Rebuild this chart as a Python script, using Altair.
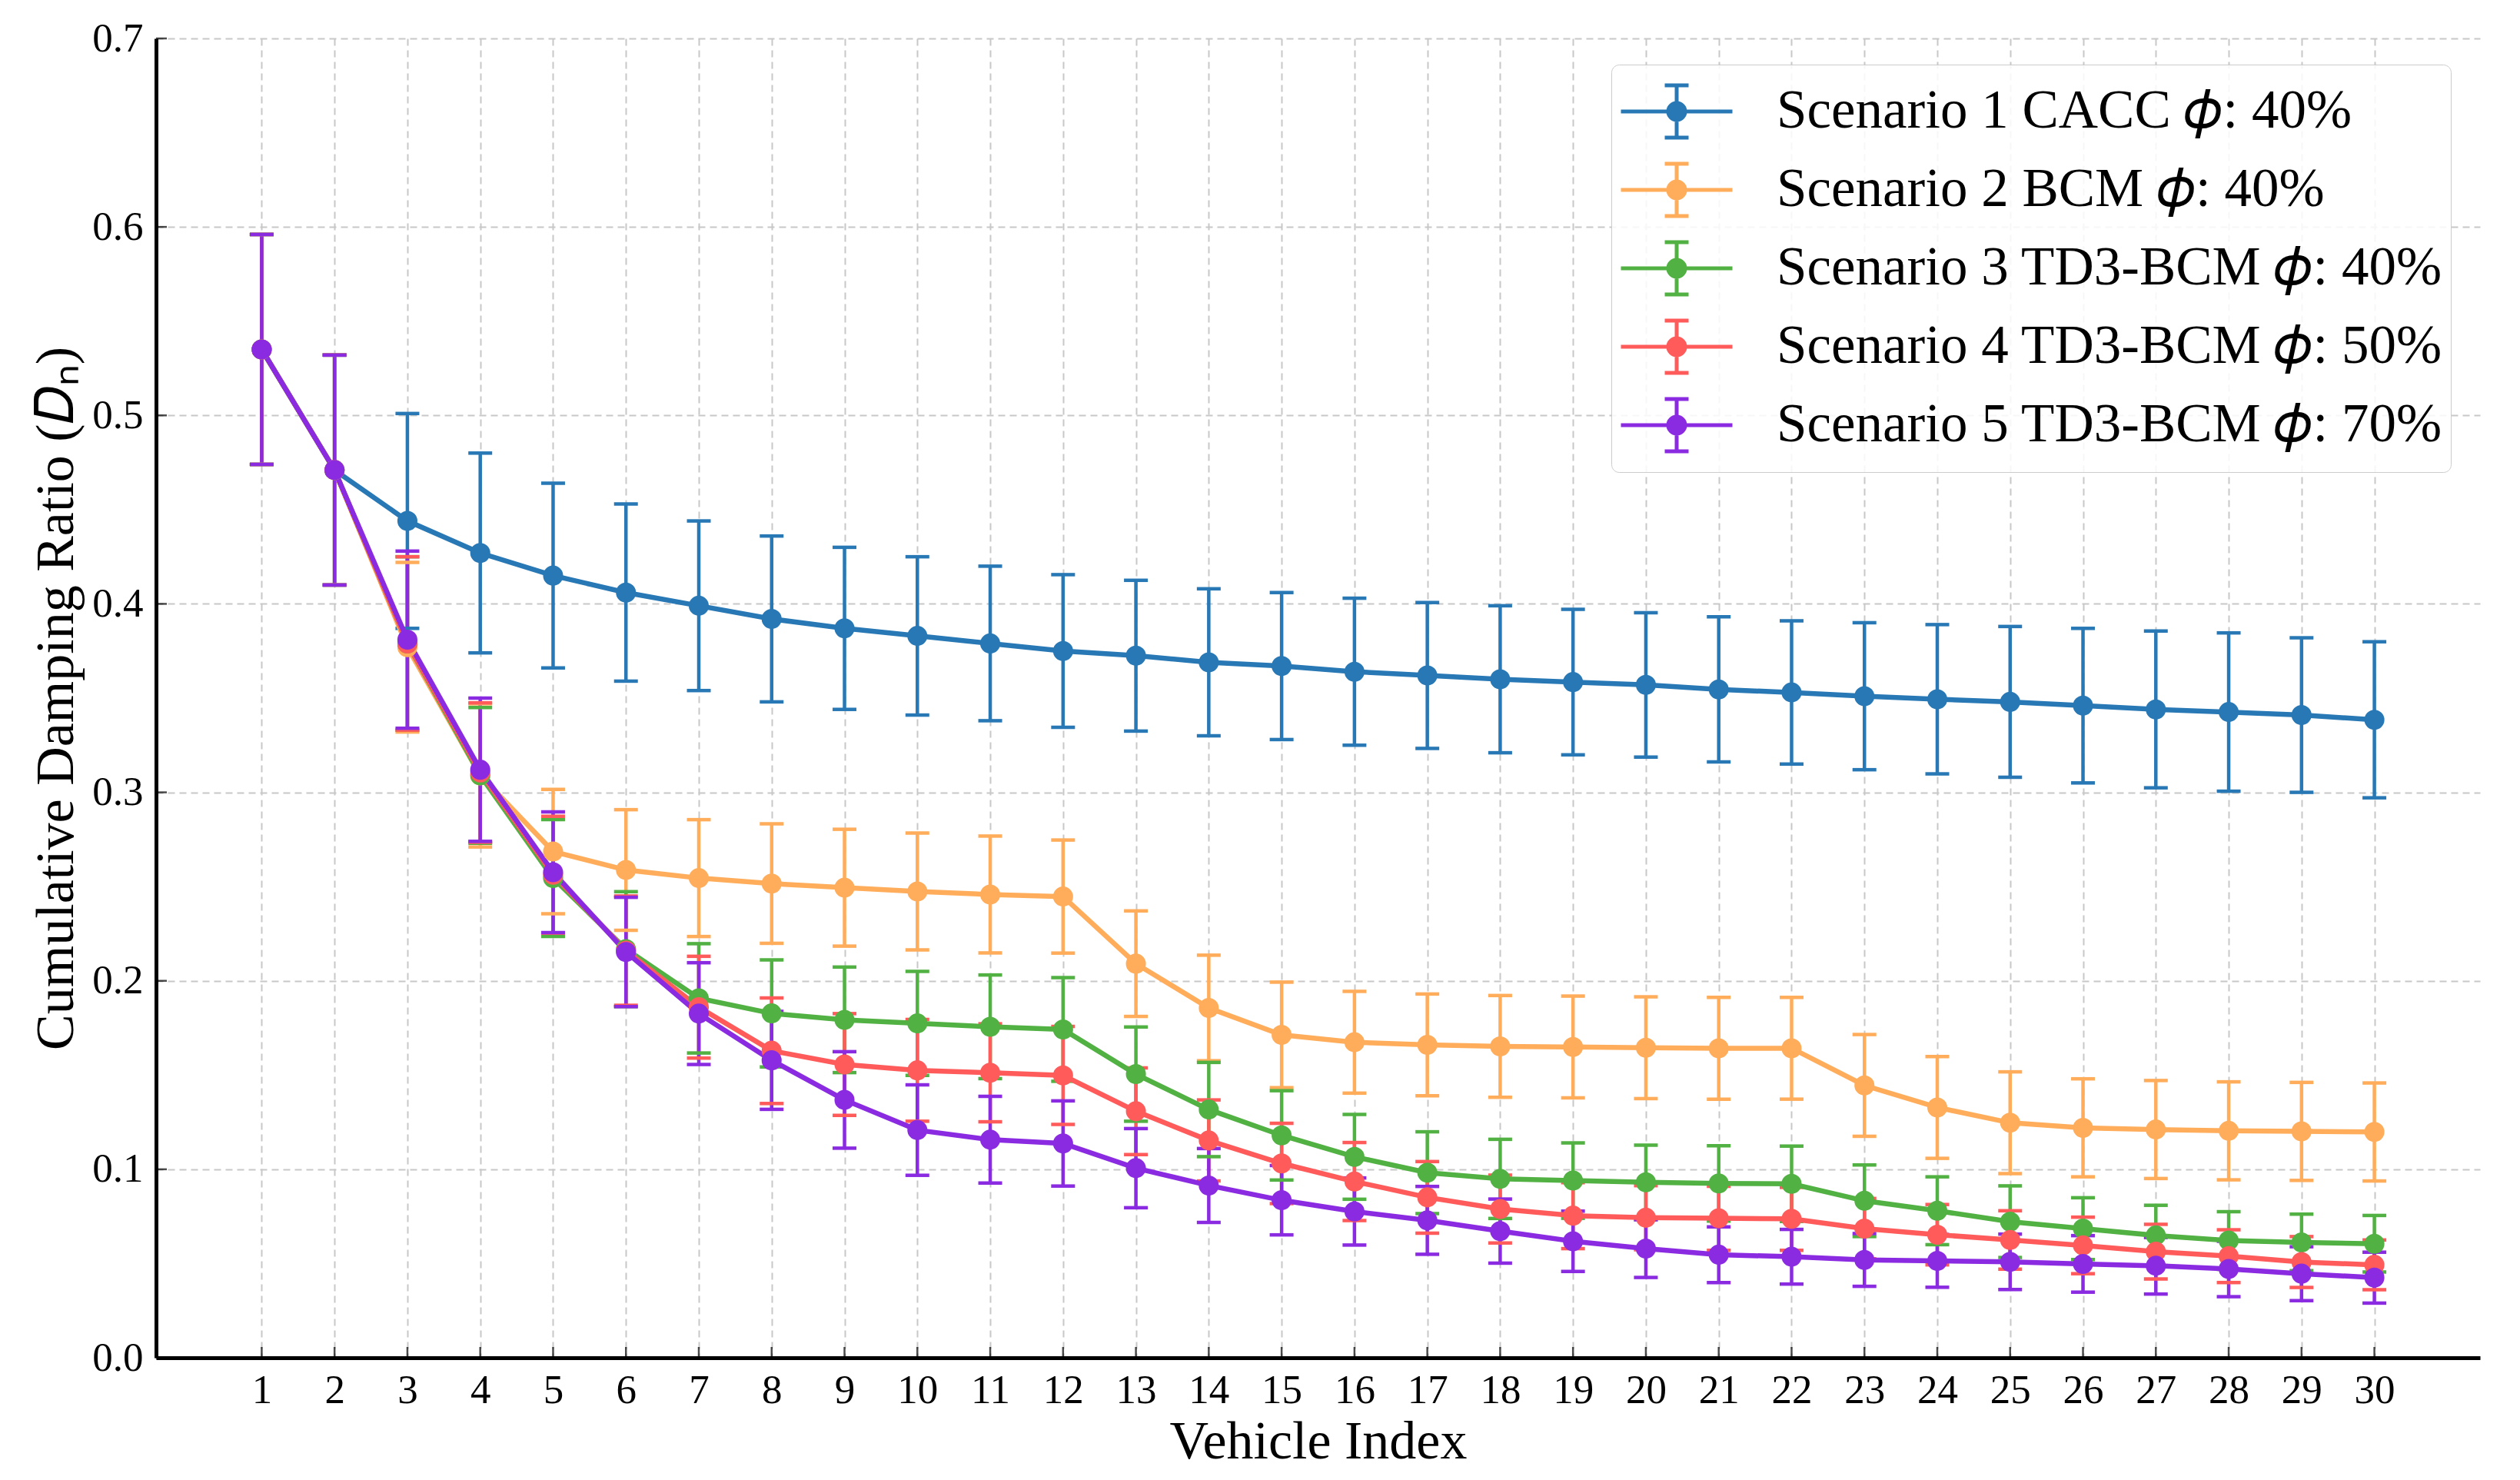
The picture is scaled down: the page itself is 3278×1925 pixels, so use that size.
import altair as alt
import pandas as pd

# ---------------- data ----------------
vehicles = list(range(1, 31))
y_ticks = [0.0, 0.1, 0.2, 0.3, 0.4, 0.5, 0.6, 0.7]

series_names = [
    "Scenario 1 CACC 𝜙: 40%",
    "Scenario 2 BCM 𝜙: 40%",
    "Scenario 3 TD3-BCM 𝜙: 40%",
    "Scenario 4 TD3-BCM 𝜙: 50%",
    "Scenario 5 TD3-BCM 𝜙: 70%",
]
series_colors = ["#2878b5", "#ffad5b", "#52b143", "#ff5b5b", "#8a2be2"]

s1_mean = [0.535, 0.471, 0.444, 0.427, 0.415, 0.406, 0.399, 0.392, 0.387, 0.383,
           0.379, 0.375, 0.3725, 0.369, 0.367, 0.364, 0.362, 0.360, 0.3585, 0.357,
           0.3546, 0.353, 0.351, 0.3494, 0.348, 0.346, 0.344, 0.3426, 0.341, 0.3385]
s1_err = [0.061, 0.061, 0.057, 0.053, 0.049, 0.047, 0.045, 0.044, 0.043, 0.042,
          0.041, 0.0405, 0.040, 0.039, 0.039, 0.039, 0.0387, 0.039, 0.0386, 0.0383,
          0.0385, 0.038, 0.039, 0.0396, 0.040, 0.041, 0.0416, 0.042, 0.041, 0.0414]

s2_mean = [0.535, 0.471, 0.377, 0.309, 0.2686, 0.2588, 0.2545, 0.2516, 0.2494, 0.2474,
           0.2458, 0.2447, 0.2091, 0.1856, 0.1713, 0.1674, 0.166, 0.1652, 0.1649, 0.1645,
           0.1642, 0.1642, 0.1445, 0.1328, 0.1247, 0.122, 0.1211, 0.1204, 0.1201, 0.1198]
s2_err = [0.061, 0.061, 0.045, 0.038, 0.033, 0.032, 0.031, 0.0317, 0.031, 0.031,
          0.031, 0.030, 0.028, 0.028, 0.028, 0.027, 0.027, 0.027, 0.027, 0.027,
          0.027, 0.027, 0.027, 0.027, 0.027, 0.026, 0.026, 0.026, 0.026, 0.026]

s3_mean = [0.535, 0.471, 0.379, 0.309, 0.2545, 0.2168, 0.1907, 0.1827, 0.1793, 0.1774,
           0.1756, 0.1742, 0.1505, 0.1317, 0.118, 0.1066, 0.0982, 0.0949, 0.094, 0.0931,
           0.0925, 0.0923, 0.0833, 0.078, 0.0722, 0.0685, 0.0649, 0.0622, 0.0612, 0.0605]
s3_err = [0.061, 0.061, 0.046, 0.036, 0.031, 0.0305, 0.029, 0.0284, 0.028, 0.0276,
          0.0275, 0.0275, 0.025, 0.025, 0.0237, 0.0225, 0.0217, 0.021, 0.020, 0.0197,
          0.020, 0.020, 0.019, 0.018, 0.019, 0.0164, 0.016, 0.0153, 0.015, 0.015]

s4_mean = [0.535, 0.471, 0.379, 0.3105, 0.2563, 0.216, 0.186, 0.1629, 0.1556, 0.1525,
           0.1512, 0.1498, 0.1308, 0.1153, 0.1031, 0.0935, 0.0851, 0.0789, 0.0754, 0.0743,
           0.074, 0.0737, 0.0685, 0.0653, 0.0625, 0.0596, 0.0563, 0.0539, 0.0508, 0.0493]
s4_err = [0.061, 0.061, 0.046, 0.037, 0.031, 0.029, 0.027, 0.028, 0.027, 0.027,
          0.026, 0.026, 0.023, 0.0215, 0.0213, 0.0207, 0.019, 0.018, 0.0175, 0.017,
          0.017, 0.0167, 0.016, 0.016, 0.0155, 0.015, 0.0145, 0.014, 0.0135, 0.0132]

s5_mean = [0.535, 0.471, 0.381, 0.312, 0.2576, 0.2153, 0.1826, 0.1578, 0.1368, 0.1208,
           0.1157, 0.1137, 0.1006, 0.0914, 0.0836, 0.0776, 0.0729, 0.0672, 0.0618, 0.0579,
           0.0547, 0.0536, 0.0519, 0.0514, 0.0509, 0.0498, 0.0488, 0.0471, 0.0446, 0.0425]
s5_err = [0.061, 0.061, 0.047, 0.038, 0.032, 0.029, 0.027, 0.026, 0.0256, 0.024,
          0.023, 0.0226, 0.021, 0.0196, 0.0184, 0.0178, 0.018, 0.017, 0.016, 0.0153,
          0.0148, 0.0145, 0.014, 0.014, 0.0147, 0.015, 0.015, 0.0147, 0.0143, 0.0135]

means = [s1_mean, s2_mean, s3_mean, s4_mean, s5_mean]
errs = [s1_err, s2_err, s3_err, s4_err, s5_err]

rows = []
for k, (name, m_list, e_list) in enumerate(zip(series_names, means, errs)):
    for v, m, e in zip(vehicles, m_list, e_list):
        rows.append({"vehicle": v, "series": name, "k": k,
                     "mean": m, "lo": m - e, "hi": m + e})
df = pd.DataFrame(rows)
tick_df = pd.DataFrame({"vehicle": vehicles})
ytick_df = pd.DataFrame({"yt": y_ticks})

# ---------------- style ----------------
FONT = "Liberation Serif"
x_scale = alt.Scale(domain=[-0.45, 31.45], nice=False, zero=False)
y_scale = alt.Scale(domain=[0, 0.7], nice=False, zero=False)

x_axis = alt.Axis(values=vehicles, title="Vehicle Index", format="d",
                  labelPadding=16, titlePadding=6, labelFlush=False,
                  labelOverlap=False)
y_axis = alt.Axis(values=y_ticks, title="Cumulative Damping Ratio (𝐷ₙ)", format=".1f",
                  labelPadding=17, titlePadding=10, labelFlush=False,
                  labelOverlap=False)

u = 72.5  # legend symbol half-width in px
def p(v):
    return round(v / u, 4)

eb = p(34)
cap = p(15.5)
circles = "".join(
    f"M{p(r)},0A{p(r)},{p(r)},0,1,1,{-p(r)},0A{p(r)},{p(r)},0,1,1,{p(r)},0"
    for r in [1.0, 3.5, 7.0, 11.0]
)
legend_path = (f"M-1,0H1M0,{-eb}V{eb}M{-cap},{-eb}H{cap}M{-cap},{eb}H{cap}" + circles)

legend = alt.Legend(
    title=None, orient="none", legendX=1893, legendY=34,
    symbolType=legend_path, symbolSize=145 * 145, symbolStrokeWidth=5,
    labelFont=FONT, labelFontSize=71, labelColor="black", labelOffset=55,
    labelLimit=2000, clipHeight=102, rowPadding=0, padding=10,
    fillColor="rgba(255,255,255,0.85)", strokeColor="#cccccc", cornerRadius=10,
)

color_scale = alt.Scale(domain=series_names, range=series_colors)
color_leg = alt.Color("series:N", scale=color_scale, legend=legend, sort=series_names)

base = alt.Chart(df)
X = alt.X("vehicle:Q", scale=x_scale, axis=x_axis)

err_rule = base.mark_rule(strokeWidth=4.5).encode(
    x=X, y=alt.Y("lo:Q", scale=y_scale, axis=y_axis), y2="hi:Q",
    color=color_leg, order=alt.Order("k:Q"))
cap_lo = base.mark_tick(orient="horizontal", size=31, thickness=4.5, opacity=1).encode(
    x=X, y=alt.Y("lo:Q", scale=y_scale, axis=y_axis), color=color_leg,
    order=alt.Order("k:Q"))
cap_hi = base.mark_tick(orient="horizontal", size=31, thickness=4.5, opacity=1).encode(
    x=X, y=alt.Y("hi:Q", scale=y_scale, axis=y_axis), color=color_leg,
    order=alt.Order("k:Q"))
lines = base.mark_line(strokeWidth=6.5).encode(
    x=X, y=alt.Y("mean:Q", scale=y_scale, axis=y_axis), color=color_leg)
points = base.mark_circle(size=680, opacity=1).encode(
    x=X, y=alt.Y("mean:Q", scale=y_scale, axis=y_axis), color=color_leg,
    order=alt.Order("k:Q"))

xticks = alt.Chart(tick_df).mark_tick(
    orient="vertical", size=14, thickness=2.5, color="black", yOffset=-7
).encode(x=X, y=alt.datum(0, scale=y_scale))
yticks = alt.Chart(ytick_df).mark_tick(
    orient="horizontal", size=14, thickness=2.5, color="black", xOffset=7
).encode(x=alt.datum(-0.45, scale=x_scale), y=alt.Y("yt:Q", scale=y_scale, axis=y_axis))

chart = alt.layer(err_rule, cap_lo, cap_hi, lines, points, xticks, yticks).properties(
    width=3023, height=1716,
    autosize=alt.AutoSizeParams(type="none"),
    padding={"left": 195, "top": 42, "right": 44, "bottom": 151},
    background="white",
).configure_view(stroke=None).configure_axis(
    labelFont=FONT, labelFontSize=53, labelColor="black",
    titleFont=FONT, titleFontSize=70, titleFontWeight="normal", titleColor="black",
    domainColor="black", domainWidth=5, ticks=False, tickSize=0,
    grid=True, gridColor="#c8c8c8", gridDash=[9, 6], gridWidth=2,
)

chart.save("out.html", embed_options={"renderer": "svg", "actions": False})
